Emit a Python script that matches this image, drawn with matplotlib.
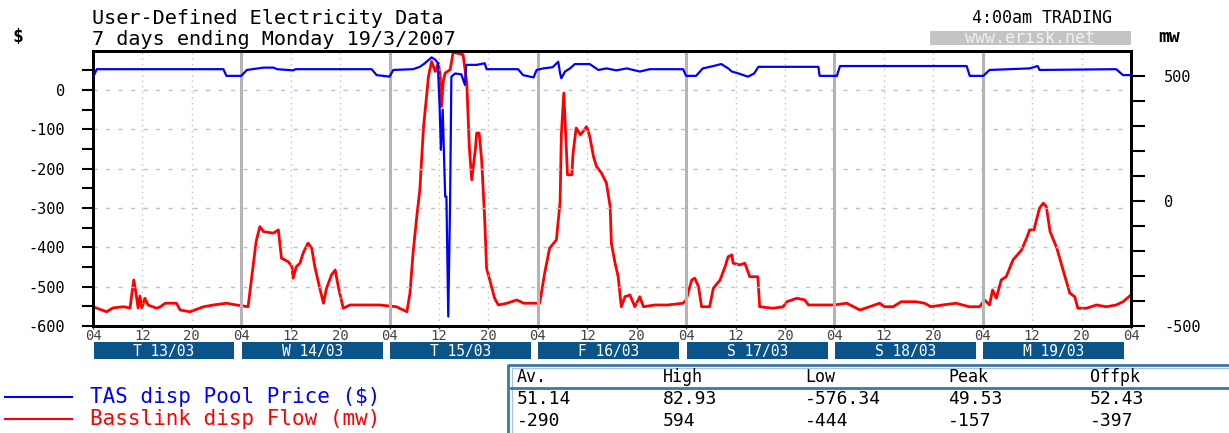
import matplotlib
matplotlib.use("Agg")
import matplotlib.pyplot as plt
from matplotlib.patches import Rectangle
from matplotlib.lines import Line2D
from matplotlib.transforms import blended_transform_factory

plt.rcParams['font.family'] = ['DejaVu Sans Mono']

W, H = 1229, 433

# hours from 04:00 Tue 13/03
flow_h = [0, 2.2, 3.2, 4.9, 6.0, 6.3, 6.6, 7.0, 7.3, 7.6, 7.9, 8.4, 8.9, 10.3, 10.9, 11.7,
          13.5, 14.1, 15.7, 17.9, 19.5, 21.6, 23.2, 25.1, 25.7, 26.4, 27.0, 27.6, 29.2, 30.0,
          30.5, 31.6, 32.2, 32.4, 32.9, 33.5, 34.0, 34.8, 35.4, 35.9, 36.7, 37.3, 37.8, 38.6,
          39.2, 39.7, 40.5, 41.6, 43.8, 46.4, 49.1, 50.8, 51.3, 51.8, 52.4, 52.9, 53.5, 54.3,
          54.8, 55.4, 55.9, 56.2, 56.4, 56.7, 57.0, 57.8, 58.3, 59.9, 60.5, 60.9, 61.3, 61.9,
          62.1, 62.5, 62.9, 63.4, 63.7, 64.5, 65.0, 65.6, 67.0, 68.6, 69.7, 72.3, 73.1, 73.9,
          75.0, 75.6, 75.8, 76.2, 76.5, 76.8, 77.5, 77.7, 78.2, 78.9, 79.9, 80.4, 81.0, 81.5,
          82.3, 83.1, 83.7, 83.9, 84.5, 85.0, 85.5, 86.1, 86.9, 87.7, 88.5, 89.1, 90.9, 93.0,
          95.5, 96.0, 96.9, 97.4, 98.0, 98.5, 99.8, 100.4, 101.5, 102.3, 102.8, 103.4, 103.6,
          104.7, 105.5, 106.3, 107.6, 107.9, 110.1, 111.7, 112.3, 113.9, 115.2, 115.8, 117.7,
          119.9, 122.0, 124.1, 125.7, 127.3, 128.1, 129.5, 130.8, 133.2, 134.6, 135.6, 137.5,
          139.7, 141.8, 143.5, 144.3, 145.1, 145.6, 146.2, 147.0, 147.8, 148.9, 150.3, 151.1,
          151.6, 152.3, 152.7, 153.2, 153.8, 154.3, 154.9, 156.0, 157.0, 158.1, 158.9, 159.4,
          160.8, 162.4, 164.0, 165.6, 166.7, 168.0]
flow_mw = [-423, -443, -428, -423, -428, -369, -316, -376, -428, -380, -428, -389, -416, -429, -423, -409,
           -409, -436, -443, -423, -416, -409, -416, -423, -303, -163, -103, -123, -129, -116,
           -229, -243, -263, -309, -263, -249, -209, -169, -189, -263, -349, -409, -349, -296,
           -276, -343, -429, -416, -416, -416, -423, -443, -369, -209, -63, 44, 297, 497,
           557, 517, 550, 497, 377, 480, 511, 524, 594, 584, 471, 217, 84, 211,
           271, 271, 164, -76, -269, -343, -389, -416, -409, -396, -409, -409, -289, -189,
           -156, -3, 264, 431, 264, 104, 104, 191, 291, 264, 297, 257, 177, 137,
           111, 71, -23, -169, -249, -303, -423, -383, -376, -423, -383, -423, -416, -416,
           -409, -396, -316, -309, -343, -423, -423, -349, -316, -263, -223, -216, -249,
           -256, -249, -303, -303, -423, -429, -423, -403, -389, -396, -416, -416,
           -416, -409, -436, -423, -409, -423, -423, -403, -403, -409, -423, -416,
           -409, -423, -423, -396, -416, -356, -389, -316, -303, -236, -196, -149,
           -116, -116, -76, -29, -9, -23, -123, -189, -276, -369, -383, -429,
           -429, -416, -423, -416, -403, -376]

price_h = [0, 0.3, 0.6, 21.1, 21.6, 24.0, 24.9, 27.6, 29.2, 29.8, 32.4, 32.8, 45.1, 45.9, 48.0,
           48.6, 51.8, 52.9, 53.7, 54.8, 55.4, 55.8, 56.1, 56.3, 56.6, 57.0, 57.2, 57.5, 57.8,
           58.0, 58.6, 59.6, 60.2, 60.4, 62.1, 63.4, 63.7, 68.8, 69.6, 71.3, 71.8, 72.9, 74.4,
           75.3, 75.6, 75.8, 76.4, 77.2, 78.0, 80.4, 81.8, 83.1, 84.7, 86.4, 88.5, 90.1, 95.5,
           96.0, 97.6, 98.7, 100.4, 101.7, 102.8, 103.4, 104.5, 106.0, 107.0, 107.7, 117.4,
           117.6, 120.4, 120.9, 141.4, 141.9, 144.1, 145.1, 151.6, 152.9, 153.2, 165.6, 166.7,
           168.0]
price_d = [34, 42, 53, 53, 36, 36, 51, 57, 57, 53, 50, 53, 53, 38, 34,
           51, 53, 59, 68, 83, 77, 69, -42, -152, -50, -271, -271, -576, -280,
           34, 42, 40, 13, 64, 64, 68, 53, 53, 38, 32, 51, 55, 58,
           72, 42, 30, 47, 55, 66, 66, 51, 55, 50, 55, 47, 53, 53,
           36, 36, 55, 61, 66, 55, 47, 42, 34, 42, 59, 59,
           36, 36, 61, 61, 36, 36, 51, 55, 61, 51, 53, 38,
           38]

day_labels = ["T 13/03", "W 14/03", "T 15/03", "F 16/03", "S 17/03", "S 18/03", "M 19/03"]

stat_cols = ["Av.", "High", "Low", "Peak", "Offpk"]
stat_price = ["51.14", "82.93", "-576.34", "49.53", "52.43"]
stat_flow = ["-290", "594", "-444", "-157", "-397"]

fig = plt.figure(figsize=(W / 100, H / 100), dpi=100)
fig.patch.set_facecolor('white')


def fx(px):
    return px / W


def fy(py):
    return 1 - py / H


ax = fig.add_axes([fx(93), fy(326), fx(1131) - fx(93), fy(50.7) - fy(326)])
ax2 = ax.twinx()

ax.set_xlim(0, 168)
ax.set_ylim(-600, 100)
ax2.set_ylim(-500, 600)

# grid
for v in range(-500, 1, 100):
    ax.axhline(v, color='#c0c0c0', lw=1, ls=(0, (3, 6)), zorder=0)
for d in range(7):
    for hh in (8, 16):
        ax.axvline(d * 24 + hh, color='#c0c0c0', lw=1, ls=(0, (1, 3)), zorder=0)
    if d > 0:
        ax.axvline(d * 24, color='#b4b4b4', lw=2.2, zorder=0)

ax2.plot(flow_h, flow_mw, color='#ff0000', lw=2.0, zorder=3)
ax.plot(price_h, price_d, color='#0000ff', lw=1.6, zorder=4)
ax.set_zorder(ax2.get_zorder() + 1)
ax.patch.set_visible(False)

for a in (ax, ax2):
    for s in a.spines.values():
        s.set_linewidth(2)
        s.set_color('black')

ax.set_yticks(range(-600, 51, 50))
ax.set_yticklabels([str(v) if v % 100 == 0 and v <= 0 else '' for v in range(-600, 51, 50)])
ax.tick_params(axis='y', direction='out', length=8, width=1.5, labelsize=11, pad=12)
ax2.set_yticks(range(-500, 501, 100))
ax2.set_yticklabels([str(v) if v % 500 == 0 else '' for v in range(-500, 501, 100)])
ax2.tick_params(axis='y', direction='out', length=10, width=1.5, labelsize=11, pad=14)

xt = list(range(0, 169, 8))
ax.set_xticks(xt)
ax.set_xticklabels(["%02d" % ((4 + t) % 24) for t in xt])
ax.tick_params(axis='x', direction='out', length=2, width=1, labelsize=10, pad=0, colors='#555555',
               labelcolor='#444444')

# day boxes
tr = blended_transform_factory(ax.transData, fig.transFigure)
for i, lab in enumerate(day_labels):
    x0 = i * 24 + 0.1
    x1 = i * 24 + 22.9
    fig.patches.append(Rectangle((x0, fy(359)), x1 - x0, fy(342) - fy(359), transform=tr,
                                 facecolor='#0b5489', edgecolor='none'))
    fig.text((x0 + x1) / 2, fy(356), lab, transform=tr, ha='center', va='baseline',
             color='white', fontsize=10.5)

# header texts
fig.text(fx(92), fy(24.5), "User-Defined Electricity Data", fontsize=14.5, va='baseline', ha='left')
fig.text(fx(92), fy(45), "7 days ending Monday 19/3/2007", fontsize=14.5, va='baseline', ha='left')
fig.text(fx(13), fy(37), "$", fontsize=13, va='center', ha='left', fontweight='bold')
fig.text(fx(1112), fy(18), "4:00am TRADING", fontsize=12, va='center', ha='right')
fig.patches.append(Rectangle((fx(930), fy(45)), fx(1131) - fx(930), fy(31) - fy(45),
                             transform=fig.transFigure, facecolor='#c4c4c4', edgecolor='none'))
fig.text(fx(1030), fy(38), "www.erisk.net", fontsize=12, va='center', ha='center', color='#f0f0f0')
fig.text(fx(1158), fy(37), "mw", fontsize=13, va='center', ha='left', fontweight='bold')

# legend
for yy, col, lab in [(397, '#0000ff', "TAS disp Pool Price ($)"),
                     (419, '#ff0000', "Basslink disp Flow (mw)")]:
    fig.lines.append(Line2D([fx(5), fx(72)], [fy(yy), fy(yy)], transform=fig.transFigure,
                            color=col, lw=1.5))
    fig.text(fx(90), fy(yy), lab, fontsize=15, color=col, va='center', ha='left')

# stats table
border = '#3f76a3'
fig.lines.append(Line2D([fx(508), fx(508), fx(1229)], [fy(433), fy(365), fy(365)],
                        transform=fig.transFigure, color=border, lw=2))
fig.lines.append(Line2D([fx(511.5), fx(511.5), fx(1229)], [fy(433), fy(368), fy(368)],
                        transform=fig.transFigure, color='#a9c3d8', lw=1))
fig.lines.append(Line2D([fx(511), fx(1229)], [fy(387.5), fy(387.5)],
                        transform=fig.transFigure, color=border, lw=2))
col_x = [517, 663, 805, 948, 1090]
for cx, c, p, f in zip(col_x, stat_cols, stat_price, stat_flow):
    fig.text(fx(cx), fy(377), c, fontsize=12, va='center', ha='left')
    fig.text(fx(cx), fy(398.5), p, fontsize=13, va='center', ha='left')
    fig.text(fx(cx), fy(420.5), f, fontsize=13, va='center', ha='left')

fig.savefig("out.png", dpi=100)
